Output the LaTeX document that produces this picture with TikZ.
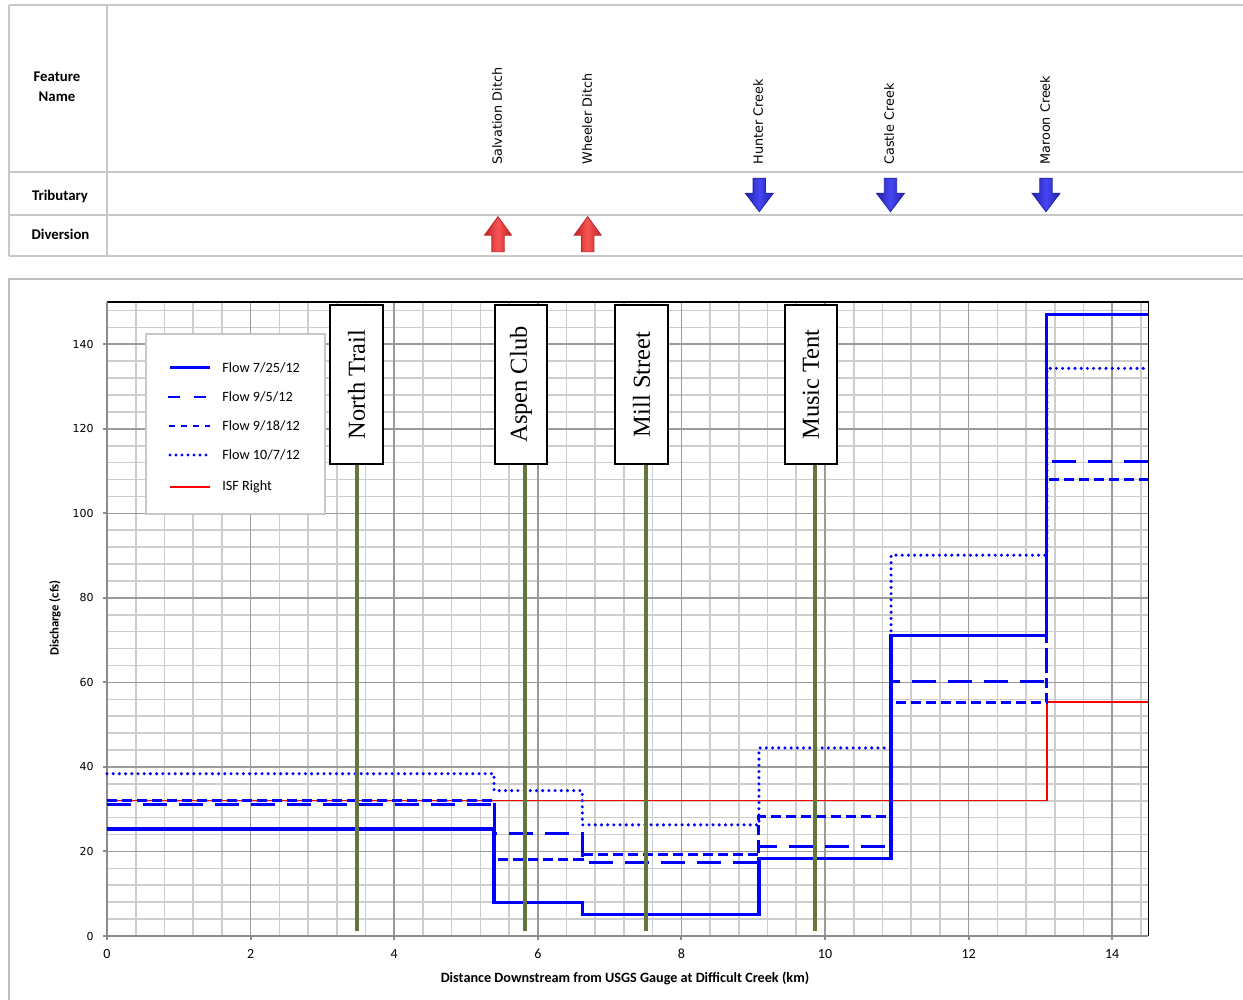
\documentclass[tikz,border=0pt]{standalone}
\usepackage{fontspec}
\setmainfont{Liberation Serif}
\newfontfamily\carl{Carlito}
\newfontfamily\dvs{DejaVu Sans}
\definecolor{tablegray}{RGB}{200,200,200}
\definecolor{framegray}{RGB}{190,190,190}
\definecolor{minorgray}{RGB}{205,205,205}
\definecolor{majorgray}{RGB}{155,155,155}
\definecolor{axisgray}{RGB}{140,140,140}
\definecolor{postgreen}{RGB}{100,118,60}
\definecolor{arrbluemid}{RGB}{70,70,245}
\definecolor{arrblueedge}{RGB}{35,35,170}
\definecolor{arrredmid}{RGB}{250,85,85}
\definecolor{arrrededge}{RGB}{190,35,35}
\tikzset{
  tline/.style={draw=tablegray, line width=1pt},
  rowhead/.style={font=\carl\bfseries\fontsize{7.4}{10}\selectfont, align=center, inner sep=0pt},
  feat/.style={font=\dvs\fontsize{6.4}{7.6}\selectfont, rotate=90, anchor=west, inner sep=0pt},
  sitebox/.style={draw=black, line width=0.9pt, fill=white, rotate=90, minimum width=79.5pt, minimum height=26.25pt, inner sep=0pt, font=\fontsize{12.2}{14}\selectfont},
  greenpost/.style={draw=postgreen, line width=2pt},
  minorgrid/.style={draw=minorgray, line width=0.8pt},
  majorgrid/.style={draw=majorgray, line width=0.8pt},
  axisline/.style={draw=axisgray, line width=1pt},
  flowA/.style={draw=blue, line width=1.6pt},
  flowB/.style={draw=blue, line width=1.5pt, dash pattern=on 12pt off 6pt},
  flowC/.style={draw=blue, line width=1.5pt, dash pattern=on 5pt off 2.5pt},
  flowD/.style={draw=blue, line width=1.7pt, line cap=round, dash pattern=on 0pt off 3.1pt},
  isf/.style={draw=red, line width=0.8pt},
  legA/.style={draw=blue, line width=1.5pt},
  legB/.style={draw=blue, line width=0.9pt, dash pattern=on 6pt off 7pt},
  legC/.style={draw=blue, line width=0.9pt, dash pattern=on 3pt off 3pt},
  legD/.style={draw=blue, line width=1.7pt, line cap=round, dash pattern=on 0pt off 3pt},
  legR/.style={draw=red, line width=1pt},
  legtext/.style={font=\carl\fontsize{7.1}{8}\selectfont, anchor=west, inner sep=0pt},
  ytick/.style={font=\dvs\fontsize{5.5}{6}\selectfont, anchor=east, inner sep=0pt},
  xtick/.style={font=\carl\fontsize{7}{8}\selectfont, inner sep=0pt},
  axtitle/.style={font=\carl\bfseries\fontsize{7.1}{8}\selectfont, inner sep=0pt},
  downarr/.pic={\path[draw=arrblueedge, line width=0.4pt, left color=arrblueedge, right color=arrblueedge, middle color=arrbluemid]
     (0,0) -- (-14,-18.5) -- (-6.2,-18.5) -- (-6.2,-33.5) -- (6.2,-33.5) -- (6.2,-18.5) -- (14,-18.5) -- cycle;},
  uparr/.pic={\path[draw=arrrededge, line width=0.4pt, left color=arrrededge, right color=arrrededge, middle color=arrredmid]
     (0,0) -- (-13.5,18.5) -- (-6.2,18.5) -- (-6.2,35) -- (6.2,35) -- (6.2,18.5) -- (13.5,18.5) -- cycle;}
}
\begin{document}
\begin{tikzpicture}[x=0.5pt,y=-0.5pt]
\useasboundingbox[fill=white] (0,0) rectangle (1243,1000);

% ---------- top table ----------
\draw[tline] (9,5) -- (1243,5);
\draw[tline] (9,172) -- (1243,172);
\draw[tline] (9,215) -- (1243,215);
\draw[tline] (9,256) -- (1243,256);
\draw[tline] (9,5) -- (9,256);
\draw[tline] (107,5) -- (107,256);

\node[rowhead] (hfeat) at (57,87) {Feature\\Name};
\node[rowhead] (htrib) at (60,196) {Tributary};
\node[rowhead] (hdiv) at (60.5,234) {Diversion};

\node[feat] (fsal) at (497,165) {Salvation Ditch};
\node[feat] (fwhe) at (587,165) {Wheeler Ditch};
\node[feat] (fhun) at (758,165) {Hunter Creek};
\node[feat] (fcas) at (889,165) {Castle Creek};
\node[feat] (fmar) at (1045,165) {Maroon Creek};

\pic at (759.3,211.7) {downarr};
\pic at (890.5,211.7) {downarr};
\pic at (1046,211.7) {downarr};
\pic at (498,216.7) {uparr};
\pic at (587.7,216.7) {uparr};

% ---------- chart frame ----------
\draw[draw=framegray, line width=1pt] (9,1000) -- (9,279) -- (1243,279);

% ---------- plot ----------
\begin{scope}[xshift=53.5pt, yshift=-468pt, x=35.9pt, y=2.1133pt]
  \foreach \i in {1,...,36} \draw[minorgrid] (\i*0.4,0) -- (\i*0.4,150);
  \foreach \j in {1,...,37} \draw[minorgrid] (0,\j*4) -- (14.5,\j*4);
  \foreach \i in {2,4,...,14} \draw[majorgrid] (\i,0) -- (\i,150);
  \foreach \j in {20,40,...,140} \draw[majorgrid] (0,\j) -- (14.5,\j);
  \draw[black, line width=0.6pt] (0,150) -- (14.5,150) -- (14.5,0);
  \draw[axisline] (0,150) -- (0,0) -- (14.5,0);
  \foreach \j in {0,20,...,140} {
    \draw[axisline] (0,\j) -- (-0.056,\j);
    \node[ytick] (yt\j) at (-0.18,\j) {\j};
  }
  \foreach \i in {0,2,...,14} {
    \draw[axisline] (\i,0) -- (\i,-0.95);
    \node[xtick] (xt\i) at (\i,-4.3) {\i};
  }

  \draw[isf] (0,32.1) -- (13.09,32.1) -- (13.09,55.3) -- (14.5,55.3);
  \draw[flowC] (0,32.1) -- (5.39,32.1) -- (5.39,18.2) -- (6.62,18.2) -- (6.62,19.4) -- (9.08,19.4) -- (9.08,28.2) -- (10.92,28.2) -- (10.92,55.3) -- (13.09,55.3) -- (13.09,108) -- (14.5,108);
  \draw[flowB] (0,31.2) -- (5.39,31.2) -- (5.39,24.2) -- (6.62,24.2) -- (6.62,17.4) -- (9.08,17.4) -- (9.08,21.1) -- (10.92,21.1) -- (10.92,60.1) -- (13.09,60.1) -- (13.09,112.2) -- (14.5,112.2);
  \draw[flowD] (0,38.4) -- (5.39,38.4) -- (5.39,34.4) -- (6.62,34.4) -- (6.62,26.3) -- (9.08,26.3) -- (9.08,44.5) -- (10.92,44.5) -- (10.92,90.1) -- (13.09,90.1) -- (13.09,134.3) -- (14.5,134.3);
  \draw[flowA] (0,25.3) -- (5.39,25.3) -- (5.39,8) -- (6.62,8) -- (6.62,5) -- (9.08,5) -- (9.08,18.4) -- (10.92,18.4) -- (10.92,71.1) -- (13.09,71.1) -- (13.09,147.1) -- (14.5,147.1);
\end{scope}

\node[axtitle] (xtitle) at (625,978) {Distance Downstream from USGS Gauge at Difficult Creek (km)};
\node[axtitle, rotate=90, font=\carl\bfseries\fontsize{6.3}{8}\selectfont] (ytitle) at (55,618) {Discharge (cfs)};

% ---------- site markers ----------
\coordinate (ntb) at (356.7,931);
\coordinate (acb) at (525,931);
\coordinate (msb) at (645.7,931);
\coordinate (mtb) at (815,931);
\node[sitebox] (nt) at (356.5,384.5) {North Trail};
\node[sitebox] (ac) at (521,384.5) {Aspen Club};
\node[sitebox] (ms) at (641.5,384.5) {Mill Street};
\node[sitebox] (mt) at (811,384.5) {Music Tent};
\draw[greenpost] (nt.west -| ntb) -- (ntb);
\draw[greenpost] (ac.west -| acb) -- (acb);
\draw[greenpost] (ms.west -| msb) -- (msb);
\draw[greenpost] (mt.west -| mtb) -- (mtb);

% ---------- legend ----------
\draw[fill=white, draw=tablegray, line width=0.6pt] (146,334) rectangle (325,514);
\draw[legA] (170,368) -- (210,368);
\node[legtext] (l1) at (222,368) {Flow 7/25/12};
\draw[legB] (168,397) -- (210,397);
\node[legtext] (l2) at (222,397) {Flow 9/5/12};
\draw[legC] (169,426) -- (210,426);
\node[legtext] (l3) at (222,426) {Flow 9/18/12};
\draw[legD] (170,455) -- (210,455);
\node[legtext] (l4) at (222,455) {Flow 10/7/12};
\draw[legR] (170,487) -- (210,487);
\node[legtext] (l5) at (222,487) {ISF Right};
\end{tikzpicture}
\end{document}
